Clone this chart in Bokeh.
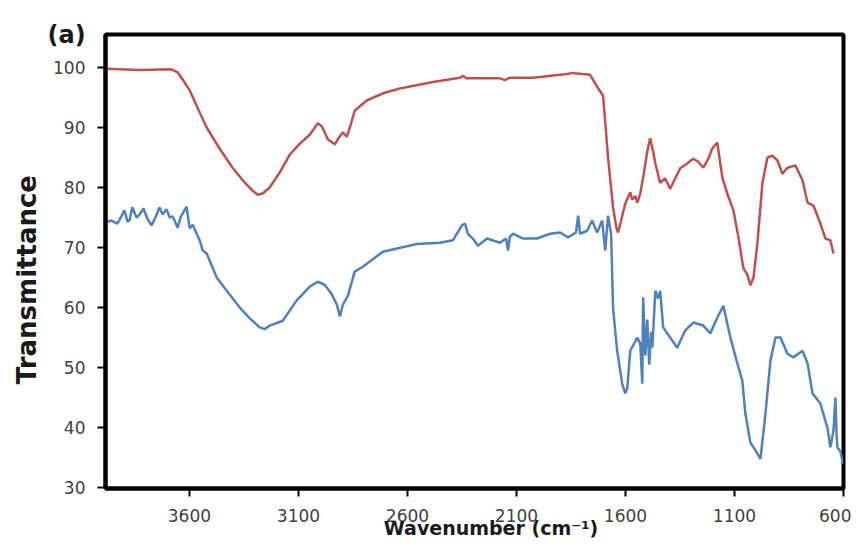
from bokeh.plotting import figure
from bokeh.models import Range1d, FixedTicker
from bokeh.embed import file_html
from bokeh.resources import INLINE

# ---- data ----
red_wn = [3985, 3829, 3683, 3654, 3631, 3599, 3553, 3521, 3462, 3402, 3346, 3314, 3287, 3264,
          3232, 3186, 3140, 3094, 3048, 3011, 2993, 2965, 2933, 2915, 2896, 2878, 2860, 2842,
          2787, 2713, 2635, 2483, 2359, 2346, 2327, 2176, 2153, 2130, 2024, 1868, 1845, 1795,
          1763, 1730, 1703, 1693, 1680, 1657, 1643, 1634, 1620, 1601, 1578, 1569, 1555, 1546,
          1532, 1519, 1500, 1487, 1473, 1463, 1441, 1418, 1395, 1372, 1349, 1317, 1289, 1266,
          1243, 1220, 1202, 1179, 1156, 1133, 1105, 1082, 1059, 1041, 1027, 1013, 995, 972,
          949, 926, 903, 880, 857, 821, 788, 765, 738, 706, 683, 660, 646]
red_t = [99.8, 99.6, 99.7, 99.2, 98.0, 96.2, 92.5, 90.0, 86.5, 83.3, 80.8, 79.6, 78.8, 79.0,
         80.0, 82.5, 85.5, 87.3, 88.8, 90.7, 90.2, 88.0, 87.2, 88.3, 89.2, 88.5, 90.5, 92.8,
         94.5, 95.7, 96.5, 97.6, 98.3, 98.6, 98.2, 98.2, 97.9, 98.3, 98.3, 98.9, 99.1, 98.9,
         98.8, 96.8, 95.3, 91.0, 85.0, 76.7, 73.5, 72.5, 74.5, 77.3, 79.2, 78.0, 78.6, 77.5,
         79.0, 81.7, 86.0, 88.2, 86.0, 84.0, 80.8, 81.5, 79.8, 81.5, 83.2, 84.0, 84.8, 84.3,
         83.3, 84.8, 86.5, 87.5, 81.7, 79.0, 76.2, 71.7, 66.5, 65.5, 63.7, 65.0, 70.7, 80.7,
         85.0, 85.3, 84.5, 82.3, 83.3, 83.7, 81.2, 77.5, 77.0, 74.0, 71.5, 71.2, 69.0]

blue_wn = [3985, 3958, 3931, 3921, 3898, 3884, 3875, 3862, 3843, 3829, 3811, 3793, 3774, 3756,
           3737, 3723, 3705, 3691, 3677, 3654, 3641, 3631, 3613, 3599, 3585, 3567, 3553, 3539,
           3521, 3507, 3475, 3429, 3369, 3323, 3278, 3255, 3232, 3172, 3108, 3048, 3011, 2980,
           2947, 2924, 2910, 2896, 2873, 2842, 2805, 2713, 2557, 2451, 2392, 2350, 2336, 2323,
           2300, 2277, 2235, 2176, 2148, 2139, 2130, 2116, 2070, 2006, 1946, 1900, 1863, 1827,
           1817, 1808, 1776, 1753, 1730, 1707, 1693, 1680, 1666, 1657, 1648, 1638, 1615, 1601,
           1592, 1578, 1546, 1532, 1523, 1519, 1509, 1500, 1491, 1482, 1477, 1463, 1450, 1441,
           1427, 1395, 1363, 1326, 1289, 1243, 1211, 1179, 1151, 1119, 1087, 1064, 1050, 1027,
           1004, 981, 958, 935, 912, 889, 857, 830, 788, 765, 742, 706, 674, 660, 646, 637,
           632, 628, 614, 605, 600]
blue_t = [74.2, 74.5, 74.0, 74.6, 76.2, 74.3, 74.5, 76.7, 75.0, 75.5, 76.5, 74.8, 73.7, 75.0,
          76.7, 75.5, 76.4, 75.0, 75.2, 73.3, 75.0, 75.7, 76.8, 73.2, 73.8, 72.3, 71.2, 69.5,
          69.0, 67.8, 65.0, 62.8, 60.0, 58.2, 56.7, 56.4, 57.0, 57.8, 61.2, 63.5, 64.3, 63.8,
          62.2, 60.5, 58.5, 60.5, 62.0, 66.0, 66.8, 69.3, 70.6, 70.8, 71.2, 73.7, 74.0, 72.3,
          71.5, 70.3, 71.5, 70.8, 71.5, 69.5, 71.8, 72.3, 71.5, 71.5, 72.3, 72.5, 71.7, 72.5,
          75.3, 72.3, 72.8, 74.5, 72.5, 74.5, 69.5, 75.3, 72.3, 60.0, 56.5, 52.8, 47.3, 45.7,
          46.5, 52.8, 55.0, 54.0, 47.3, 61.7, 52.0, 58.0, 50.5, 56.0, 53.3, 62.8, 61.5, 62.8,
          56.7, 55.0, 53.3, 56.2, 57.5, 57.0, 55.7, 58.3, 60.3, 55.0, 50.7, 47.8, 42.3, 37.5,
          36.2, 34.8, 42.3, 51.2, 55.0, 55.0, 52.3, 51.7, 52.8, 50.7, 45.7, 44.0, 40.0, 36.7,
          39.5, 45.0, 39.0, 36.7, 36.0, 34.5, 34.0]

x_ticks = [3600, 3100, 2600, 2100, 1600, 1100, 600]
y_ticks = [30, 40, 50, 60, 70, 80, 90, 100]

panel_label = "(a)"
x_title = "Wavenumber (cm\u207b\u00b9)"
y_title = "Transmittance"

NB = "\u00a0"
W, H = 851, 543

# ---- figure ----
p = figure(width=W, height=H, output_backend="svg", toolbar_location=None,
           x_range=Range1d(3985, 600), y_range=Range1d(29.85, 105.5),
           min_border_left=105, min_border_right=8, min_border_top=34, min_border_bottom=55)

p.background_fill_color = "white"
p.border_fill_color = "white"
p.outline_line_color = "black"
p.outline_line_width = 4
p.grid.visible = False

p.line(red_wn, red_t, line_color="#c0504d", line_width=2.5)
p.line(blue_wn, blue_t, line_color="#4f81bd", line_width=2.5)

for ax in (p.xaxis[0], p.yaxis[0]):
    ax.axis_line_color = "black"
    ax.axis_line_width = 4
    ax.major_tick_line_color = "black"
    ax.major_tick_line_width = 2
    ax.major_tick_in = 0
    ax.major_tick_out = 8
    ax.minor_tick_line_color = None
    ax.major_label_text_font = "DejaVu Sans"
    ax.major_label_text_font_size = "17px"
    ax.major_label_text_color = "#404040"
    ax.major_label_standoff = 12
    ax.axis_label_text_font = "DejaVu Sans"
    ax.axis_label_text_font_style = "bold"
    ax.axis_label_text_color = "#1a1a1a"

p.xaxis[0].ticker = FixedTicker(ticks=x_ticks)
p.yaxis[0].ticker = FixedTicker(ticks=y_ticks)

# titles (non-breaking spaces shift the centred text like in the reference)
p.xaxis[0].axis_label = NB * 5 + x_title
p.xaxis[0].axis_label_text_font_size = "19px"
p.xaxis[0].axis_label_standoff = -8

p.yaxis[0].axis_label = y_title + NB * 4
p.yaxis[0].axis_label_text_font_size = "26px"
p.yaxis[0].axis_label_standoff = 8

p.title.text = panel_label
p.title.align = "left"
p.title.offset = -58
p.title.standoff = -28
p.title.vertical_align = "bottom"
p.title.text_font = "DejaVu Sans"
p.title.text_font_style = "bold"
p.title.text_font_size = "24px"
p.title.text_color = "#1a1a1a"

open("out.html", "w").write(file_html(p, INLINE))
